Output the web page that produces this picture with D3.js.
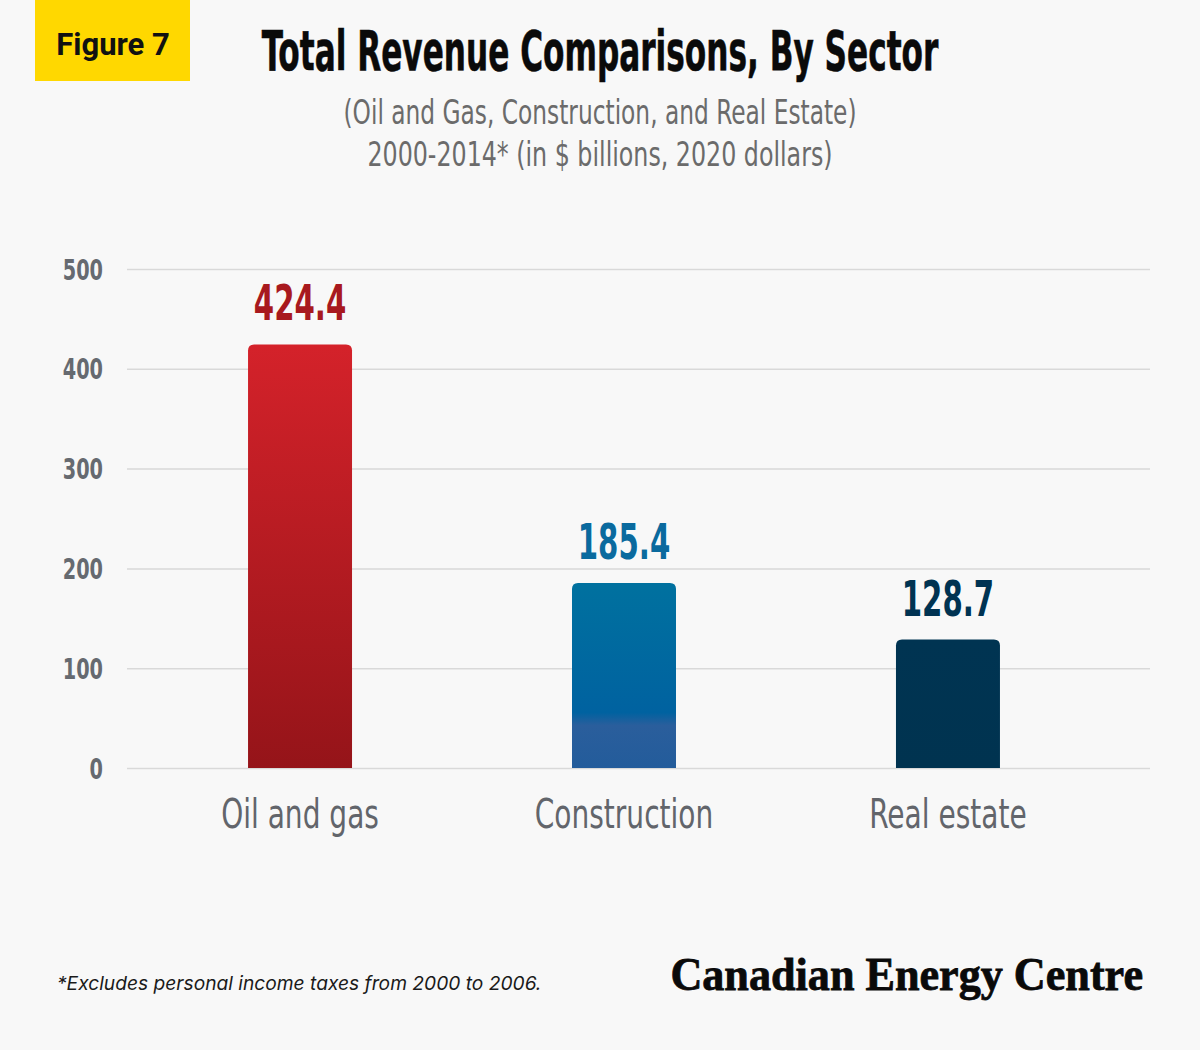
<!DOCTYPE html>
<html>
<head>
<meta charset="utf-8">
<script src="https://cdn.jsdelivr.net/npm/d3@7"></script>
<style>
  body { margin: 0; background: #f8f8f8; }
  svg { display: block; }
  .cond { font-family: "Liberation Sans Narrow", "DejaVu Sans Condensed", sans-serif; }
</style>
</head>
<body>
<script>
var categories = ["Oil and gas", "Construction", "Real estate"];
var values = [424.4, 185.4, 128.7];
var yTicks = [0, 100, 200, 300, 400, 500];
var labelColors = ["#a8191e", "#0a6a9e", "#003352"];

var W = 1200, H = 1050;
var svg = d3.select("body").append("svg")
    .attr("width", W)
    .attr("height", H);

svg.append("rect").attr("width", W).attr("height", H).attr("fill", "#f8f8f8");

// squeeze a text horizontally by a factor (no condensed display font installed)
function squeeze(sel, f) {
  sel.each(function () {
    var t = d3.select(this);
    var x0 = +t.attr("x") || 0, y0 = +t.attr("y") || 0;
    t.attr("x", 0).attr("y", 0)
      .attr("transform", "translate(" + x0 + "," + y0 + ") scale(" + f + ",1)");
  });
}

var defs = svg.append("defs");
var g0 = defs.append("linearGradient").attr("id", "grad0").attr("x1", 0).attr("y1", 0).attr("x2", 0).attr("y2", 1);
g0.append("stop").attr("offset", "0%").attr("stop-color", "#d4222a");
g0.append("stop").attr("offset", "100%").attr("stop-color", "#951419");
var g1 = defs.append("linearGradient").attr("id", "grad1").attr("x1", 0).attr("y1", 0).attr("x2", 0).attr("y2", 1);
g1.append("stop").attr("offset", "0%").attr("stop-color", "#00719f");
g1.append("stop").attr("offset", "70%").attr("stop-color", "#0062a0");
g1.append("stop").attr("offset", "77%").attr("stop-color", "#2a5e9c");
g1.append("stop").attr("offset", "100%").attr("stop-color", "#235c9b");
var g2 = defs.append("linearGradient").attr("id", "grad2").attr("x1", 0).attr("y1", 0).attr("x2", 0).attr("y2", 1);
g2.append("stop").attr("offset", "0%").attr("stop-color", "#003452");
g2.append("stop").attr("offset", "100%").attr("stop-color", "#003350");

// header
svg.append("rect").attr("x", 35).attr("y", 0).attr("width", 155).attr("height", 81).attr("fill", "#ffd800");
svg.append("text").attr("x", 113).attr("y", 55).attr("text-anchor", "middle")
    .attr("font-family", "Roboto, sans-serif").attr("font-weight", 700).attr("font-size", 31)
    .attr("fill", "#111").text("Figure 7");

svg.append("text").attr("class", "cond").attr("x", 600).attr("y", 70).attr("text-anchor", "middle")
    .attr("font-weight", 700).attr("font-size", 55).attr("fill", "#0a0a0a")
    .attr("stroke", "#0a0a0a").attr("stroke-width", 0.6)
    .text("Total Revenue Comparisons, By Sector").call(squeeze, 0.63);

svg.append("text").attr("class", "cond").attr("x", 600).attr("y", 124).attr("text-anchor", "middle")
    .attr("font-size", 33).attr("fill", "#6b6b6b")
    .text("(Oil and Gas, Construction, and Real Estate)").call(squeeze, 0.785);
svg.append("text").attr("class", "cond").attr("x", 600).attr("y", 166).attr("text-anchor", "middle")
    .attr("font-size", 33).attr("fill", "#6b6b6b")
    .text("2000-2014* (in $ billions, 2020 dollars)").call(squeeze, 0.8);

// scales
var y = d3.scaleLinear().domain([0, 500]).range([768, 269]);
var x = d3.scaleBand().domain(categories).range([134, 1114]).paddingInner(0.679).paddingOuter(0.352);

var grid = svg.append("g").attr("transform", "translate(127,0)")
    .call(d3.axisLeft(y).tickValues(yTicks).tickSize(-1023).tickPadding(24));
grid.select(".domain").remove();
grid.selectAll(".tick line").attr("stroke", "#d9d9d9").attr("stroke-width", 1.5);
grid.selectAll(".tick text").attr("class", "cond").attr("font-size", 29).attr("font-weight", 700)
    .attr("fill", "#666a70").attr("dy", "0.35em").call(squeeze, 0.74);

// bars with rounded top corners
function barPath(x0, y0, w, h, r) {
  return "M" + x0 + "," + (y0 + h) + "V" + (y0 + r) + "Q" + x0 + "," + y0 + " " + (x0 + r) + "," + y0 +
    "H" + (x0 + w - r) + "Q" + (x0 + w) + "," + y0 + " " + (x0 + w) + "," + (y0 + r) + "V" + (y0 + h) + "Z";
}

svg.append("g").selectAll("path.bar")
    .data(values)
    .enter().append("path")
    .attr("class", "bar")
    .attr("d", function (d, i) {
      return barPath(x(categories[i]), y(d), x.bandwidth(), y(0) - y(d), 6);
    })
    .attr("fill", function (d, i) { return "url(#grad" + i + ")"; });

svg.append("g").selectAll("text")
    .data(values)
    .enter().append("text")
    .attr("class", "cond")
    .attr("x", function (d, i) { return x(categories[i]) + x.bandwidth() / 2; })
    .attr("y", function (d) { return y(d) - 24; })
    .attr("text-anchor", "middle")
    .attr("font-size", 50).attr("font-weight", 700)
    .attr("fill", function (d, i) { return labelColors[i]; })
    .text(function (d) { return d.toFixed(1); })
    .call(squeeze, 0.65);

svg.append("g").selectAll("text")
    .data(categories)
    .enter().append("text")
    .attr("class", "cond")
    .attr("x", function (d) { return x(d) + x.bandwidth() / 2; })
    .attr("y", 828)
    .attr("text-anchor", "middle")
    .attr("font-size", 41)
    .attr("fill", "#62656b")
    .text(function (d) { return d; })
    .call(squeeze, 0.76);

// footer
svg.append("text").attr("x", 57).attr("y", 990)
    .attr("font-family", "Inter, 'Open Sans', sans-serif").attr("font-style", "italic").attr("font-size", 19.2)
    .attr("fill", "#1a1a1a").text("*Excludes personal income taxes from 2000 to 2006.");

svg.append("text").attr("x", 1143).attr("y", 990).attr("text-anchor", "end")
    .attr("font-family", "'Liberation Serif', 'DejaVu Serif', serif").attr("font-weight", 700).attr("font-size", 46)
    .attr("fill", "#0a0a0a").attr("stroke", "#0a0a0a").attr("stroke-width", 0.8)
    .text("Canadian Energy Centre").call(squeeze, 0.96);
</script>
</body>
</html>
